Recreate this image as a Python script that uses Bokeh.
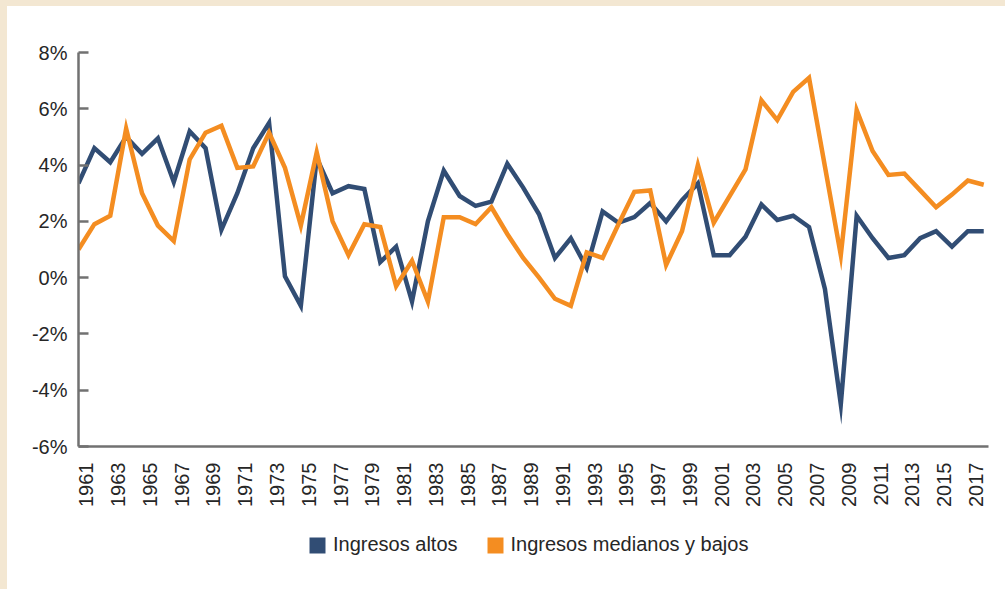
import math
from bokeh.plotting import figure
from bokeh.layouts import column
from bokeh.models import Range1d, FixedTicker, Legend, LegendItem, GlobalInlineStyleSheet
from bokeh.embed import file_html
from bokeh.resources import INLINE

# ---- data ----
years = list(range(1961, 2019))
ingresos_altos = [
    3.35, 4.6, 4.1, 5.0, 4.4, 4.95, 3.4, 5.2, 4.6, 1.7,
    3.0, 4.6, 5.5, 0.05, -1.0, 4.25, 3.0, 3.25, 3.15, 0.55,
    1.1, -0.85, 2.0, 3.8, 2.9, 2.55, 2.7, 4.05, 3.2, 2.25,
    0.7, 1.4, 0.35, 2.35, 1.95, 2.15, 2.65, 2.0, 2.75, 3.35,
    0.8, 0.8, 1.45, 2.6, 2.05, 2.2, 1.8, -0.4, -4.5, 2.2,
    1.4, 0.7, 0.8, 1.4, 1.65, 1.1, 1.65, 1.65,
]
ingresos_medianos_bajos = [
    1.0, 1.9, 2.2, 5.3, 3.0, 1.85, 1.3, 4.2, 5.15, 5.4,
    3.9, 3.95, 5.15, 3.9, 1.85, 4.45, 2.0, 0.8, 1.9, 1.8,
    -0.3, 0.6, -0.85, 2.15, 2.15, 1.9, 2.5, 1.55, 0.7, 0.0,
    -0.75, -1.0, 0.9, 0.7, 1.9, 3.05, 3.1, 0.45, 1.65, 4.0,
    1.95, 2.9, 3.85, 6.3, 5.6, 6.6, 7.1, 3.95, 0.8, 5.95,
    4.5, 3.65, 3.7, 3.1, 2.5, 2.95, 3.45, 3.3,
]
series_names = ["Ingresos altos", "Ingresos medianos y bajos"]
x_tick_labels = ["1961", "1963", "1965", "1967", "1969", "1971", "1973", "1975",
                 "1977", "1979", "1981", "1983", "1985", "1987", "1989", "1991",
                 "1993", "1995", "1997", "1999", "2001", "2003", "2005", "2007",
                 "2009", "2011", "2013", "2015", "2017"]
y_tick_values = [-6, -4, -2, 0, 2, 4, 6, 8]
y_tick_labels = ["-6%", "-4%", "-2%", "0%", "2%", "4%", "6%", "8%"]

# ---- style ----
BLUE = "#314D74"
ORANGE = "#F48D21"
AXIS = "#717171"
TEXT = "#262626"
FONT = "Liberation Sans"
CREAM = "#F3E7D2"
LABEL_SHIFT = 0.5  # category labels sit slightly right of their points
BORDER_L, BORDER_R = 71, 17

p = figure(width=998, height=514, output_backend="svg", toolbar_location=None,
           x_range=Range1d(1961 - LABEL_SHIFT, 2018.3 - LABEL_SHIFT),
           y_range=Range1d(-6, 8),
           min_border_left=BORDER_L, min_border_right=BORDER_R,
           min_border_top=46, min_border_bottom=74)
p.extra_x_ranges = {"data": Range1d(1961, 2018.3)}
p.outline_line_color = None
p.background_fill_color = "white"
p.border_fill_color = "white"
p.xgrid.visible = False
p.ygrid.visible = False

r_altos = p.line(years, ingresos_altos, x_range_name="data", line_color=BLUE,
                 line_width=4.5, line_join="miter")
r_med = p.line(years, ingresos_medianos_bajos, x_range_name="data", line_color=ORANGE,
               line_width=4.5, line_join="miter")

# x axis
xa = p.xaxis[0]
xa.ticker = FixedTicker(ticks=[int(s) for s in x_tick_labels])
xa.major_label_overrides = {int(s): s for s in x_tick_labels}
xa.major_label_orientation = math.pi / 2
xa.major_tick_in = 0
xa.major_tick_out = 0
xa.minor_tick_in = 0
xa.minor_tick_out = 0
xa.major_label_standoff = 16
xa.axis_line_color = AXIS
xa.axis_line_width = 2.5
xa.major_label_text_font = FONT
xa.major_label_text_font_size = "20px"
xa.major_label_text_color = TEXT

# y axis
ya = p.yaxis[0]
ya.ticker = FixedTicker(ticks=y_tick_values)
ya.major_label_overrides = {v: s for v, s in zip(y_tick_values, y_tick_labels)}
ya.major_tick_in = 10
ya.major_tick_out = 0
ya.minor_tick_in = 0
ya.minor_tick_out = 0
ya.major_tick_line_color = AXIS
ya.major_tick_line_width = 2.5
ya.major_label_standoff = 11
ya.axis_line_color = AXIS
ya.axis_line_width = 2.5
ya.major_label_text_font = FONT
ya.major_label_text_font_size = "20px"
ya.major_label_text_color = TEXT

# ---- legend strip (separate small figure so nothing is clipped) ----
leg = figure(width=998, height=69, output_backend="svg", toolbar_location=None,
             x_range=Range1d(0, 1), y_range=Range1d(0, 1),
             min_border_left=BORDER_L, min_border_right=BORDER_R,
             min_border_top=0, min_border_bottom=0)
leg.axis.visible = False
leg.grid.visible = False
leg.outline_line_color = None
leg.background_fill_color = "white"
leg.border_fill_color = "white"
# swatch glyphs placed outside the visible range; only their legend squares show
sw_altos = leg.quad(left=[5], right=[6], bottom=[5], top=[6], fill_color=BLUE, line_color=None)
sw_med = leg.quad(left=[5], right=[6], bottom=[5], top=[6], fill_color=ORANGE, line_color=None)
legend = Legend(
    items=[LegendItem(label=series_names[0], renderers=[sw_altos]),
           LegendItem(label=series_names[1], renderers=[sw_med])],
    location=(229, 33), orientation="horizontal",
    glyph_width=20, glyph_height=20, label_standoff=6, spacing=27,
    padding=0, margin=0, border_line_color=None, background_fill_alpha=0,
    label_text_font=FONT, label_text_font_size="20px", label_text_color=TEXT,
)
leg.add_layout(legend)

layout = column(p, leg, spacing=0)
layout.stylesheets = [GlobalInlineStyleSheet(css=(
    "html{background:linear-gradient(to right," + CREAM + " 7px,rgba(255,255,255,0) 7px),"
    "linear-gradient(to bottom," + CREAM + " 6px,#ffffff 6px) !important;}"
    "body{background:transparent !important;padding:6px 0 0 7px !important;"
    "margin:0 !important;box-sizing:border-box !important;overflow:hidden !important;}"
))]

open("out.html", "w").write(file_html(layout, INLINE))
